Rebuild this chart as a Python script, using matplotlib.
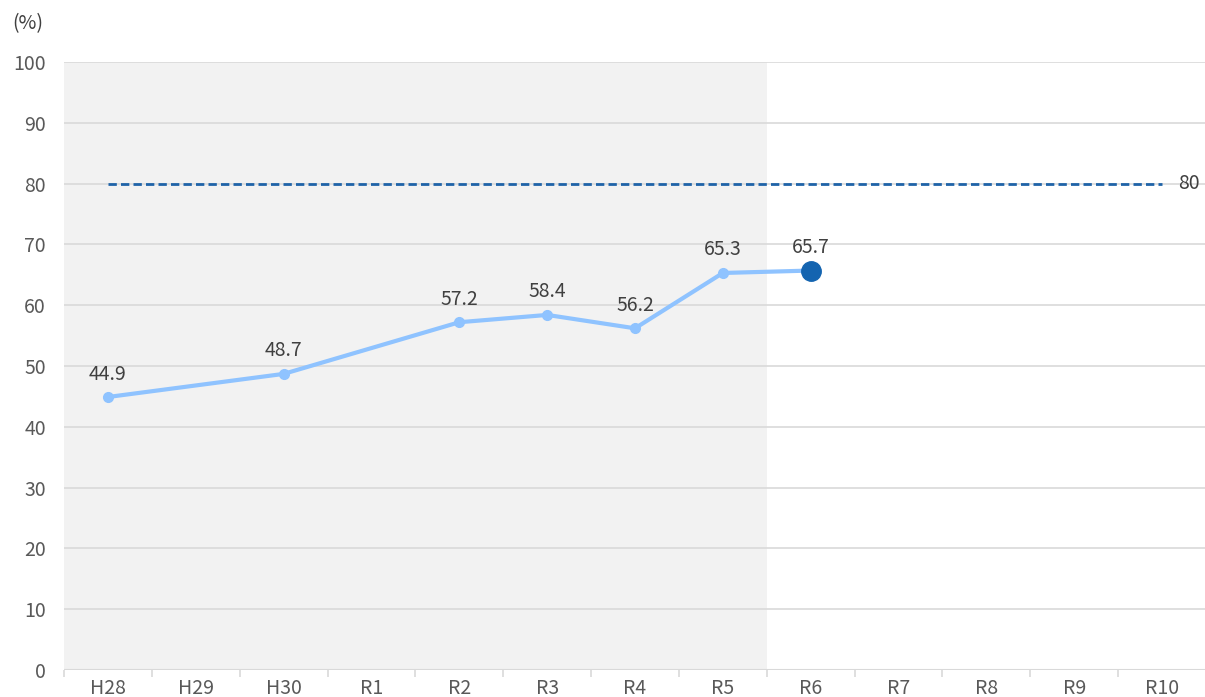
import numpy as np
import matplotlib.pyplot as plt

plt.rcParams['font.family'] = ['Noto Sans CJK JP', 'DejaVu Sans']

years = ["H28", "H29", "H30", "R1", "R2", "R3", "R4", "R5", "R6", "R7", "R8", "R9", "R10"]
# results (None = no survey that year)
rates = [44.9, None, 48.7, None, 57.2, 58.4, 56.2, 65.3, 65.7]
target = 80

text_col = "#595959"
grid_col = "#d9d9d9"
fs = 14

fig = plt.figure(figsize=(12.05, 6.97), dpi=100)
ax = fig.add_axes([64 / 1205, 27 / 697, 1142 / 1205, 608 / 697])

x = np.arange(len(years))
ax.set_xlim(-0.5, len(years) - 0.5)
ax.set_ylim(0, 100)

# past results shaded
ax.axvspan(-0.5, 7.5, color="#f2f2f2", zorder=0, lw=0)

ax.set_yticks(range(0, 101, 10))
ax.yaxis.grid(True, color=grid_col, lw=1.2)
ax.set_axisbelow(True)
for s in ax.spines.values():
    s.set_visible(False)
ax.tick_params(axis="y", length=0, labelsize=fs, labelcolor=text_col, pad=13)

ax.set_xticks(x)
ax.set_xticklabels(years)
ax.set_xticks(np.arange(-0.5, len(years)), minor=True)
ax.tick_params(axis="x", which="major", length=0, labelsize=fs, labelcolor=text_col, pad=6)
ax.tick_params(axis="x", which="minor", length=5, color=grid_col, width=1.2)
ax.axhline(0, color=grid_col, lw=1.5, zorder=1)

# target
ax.plot([0, len(years) - 1], [target, target], color="#1f63a8", lw=2,
        dashes=(3, 1.5), zorder=3)
ax.text(len(years) - 1 + 0.18, target, str(target), ha="left", va="center",
        fontsize=fs, color="#404040")

xs = [i for i, v in enumerate(rates) if v is not None]
ys = [v for v in rates if v is not None]
ax.plot(xs, ys, color="#8fc3ff", lw=3, marker="o", ms=7, zorder=4)
ax.plot(xs[-1], ys[-1], marker="o", ms=14, color="#1464b0", zorder=5)

for i, v in zip(xs, ys):
    ax.annotate(f"{v:.1f}", (i, v), xytext=(0, 9), textcoords="offset points",
                ha="center", va="bottom", fontsize=fs, color="#404040")

fig.text(12 / 1205, 1 - 24 / 697, "(%)", fontsize=fs, color="#404040",
         va="center", ha="left")

fig.savefig("out.png", dpi=100)
